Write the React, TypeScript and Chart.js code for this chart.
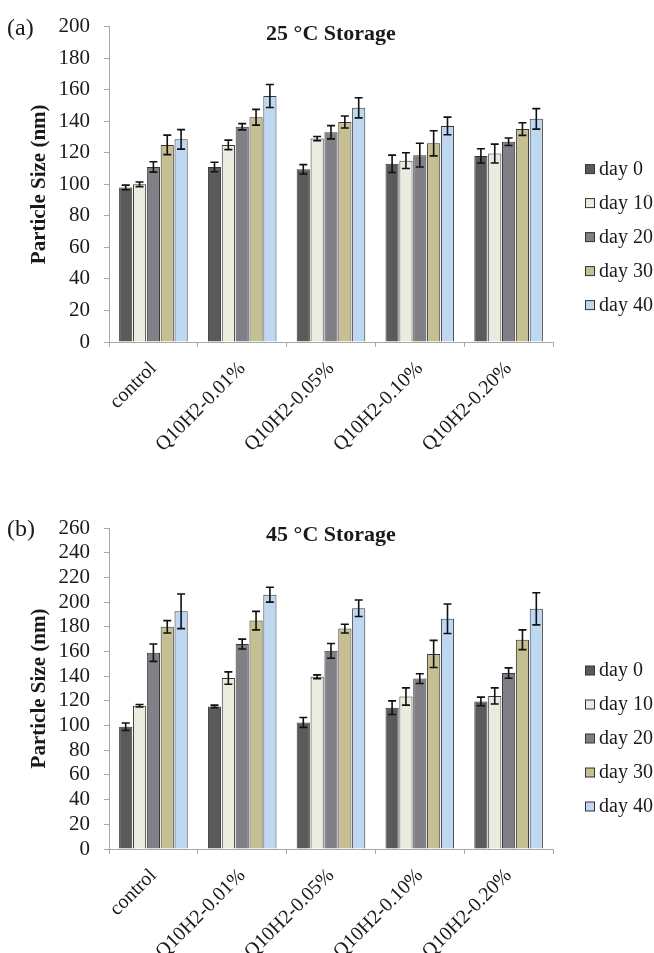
import React, { useEffect, useRef } from "react";
import { Chart, registerables } from "chart.js";

Chart.register(...registerables);

const categories = ["control", "Q10H2-0.01%", "Q10H2-0.05%", "Q10H2-0.10%", "Q10H2-0.20%"];
const seriesLabels = ["day 0", "day 10", "day 20", "day 30", "day 40"];
const seriesColors = ["#5a5a5a", "#ecebe0", "#807f85", "#c5bf92", "#bdd8f0"];

// 25 °C storage (nm), one array per storage day, values per category
const day0_25 = [98, 111, 109.5, 113, 118];
const day10_25 = [100, 125, 129, 115, 119.5];
const day20_25 = [111, 136.5, 133, 118.5, 127];
const day30_25 = [125, 142.5, 139.5, 126, 135];
const day40_25 = [128.5, 156, 148.5, 137, 141.5];
const err0_25 = [1.5, 3, 3, 5.5, 4.5];
const err10_25 = [1.5, 3, 1.3, 5, 6];
const err20_25 = [3.3, 2, 4.2, 7.5, 2.4];
const err30_25 = [6.2, 5, 3.8, 8, 4];
const err40_25 = [6.2, 7.3, 6.4, 5.6, 6.5];

// 45 °C storage (nm)
const day0_45 = [99, 115.5, 102.5, 114.5, 119.5];
const day10_45 = [116, 138.5, 139.5, 123.5, 124];
const day20_45 = [159, 166, 160.5, 138, 142.5];
const day30_45 = [180, 185, 178.5, 158, 169.5];
const day40_45 = [192.5, 206, 195, 186.5, 194.5];
const err0_45 = [3, 1, 4, 5.5, 3.5];
const err10_45 = [1, 5, 1.5, 7, 6.5];
const err20_45 = [7, 4, 6, 4, 4.2];
const err30_45 = [5, 7.5, 3.6, 11, 8];
const err40_45 = [14, 6, 6.7, 12, 13];

const yMax25 = 200;
const yMax45 = 260;
const yStep = 20;

const FONT = "'Liberation Serif', 'Times New Roman', serif";

const errorBarPlugin = {
  id: "errorBars",
  afterDatasetsDraw(chart: any) {
    const ctx = chart.ctx;
    const yScale = chart.scales.y;
    ctx.save();
    ctx.strokeStyle = "#111";
    ctx.lineWidth = 1.6;
    chart.data.datasets.forEach((ds: any, i: number) => {
      const meta = chart.getDatasetMeta(i);
      meta.data.forEach((bar: any, j: number) => {
        const v = ds.data[j];
        const e = ds.errors[j];
        const x = bar.x;
        const yT = yScale.getPixelForValue(v + e);
        const yB = yScale.getPixelForValue(v - e);
        const cap = 4;
        ctx.beginPath();
        ctx.moveTo(x, yT);
        ctx.lineTo(x, yB);
        ctx.moveTo(x - cap, yT);
        ctx.lineTo(x + cap, yT);
        ctx.moveTo(x - cap, yB);
        ctx.lineTo(x + cap, yB);
        ctx.stroke();
      });
    });
    ctx.restore();
  },
};

const sideLegendPlugin = {
  id: "sideLegend",
  afterDraw(chart: any) {
    const ctx = chart.ctx;
    const area = chart.chartArea;
    const panel = chart.options.plugins.sideLegend.panel;
    ctx.save();
    // panel label
    ctx.font = `24px ${FONT}`;
    ctx.fillStyle = "#1a1a1a";
    ctx.textAlign = "left";
    ctx.textBaseline = "middle";
    ctx.fillText(panel, 7, area.top + 2);
    // legend
    ctx.font = `20px ${FONT}`;
    chart.data.datasets.forEach((ds: any, i: number) => {
      const cy = area.top + 143 + i * 34;
      const bx = 585.5;
      ctx.fillStyle = ds.backgroundColor;
      ctx.fillRect(bx, cy - 5, 9, 9);
      ctx.strokeStyle = "#333";
      ctx.lineWidth = 1;
      ctx.strokeRect(bx, cy - 5, 9, 9);
      ctx.fillStyle = "#1a1a1a";
      ctx.fillText(ds.label, 599, cy);
    });
    ctx.restore();
  },
};

function makeConfig(
  title: string,
  panel: string,
  values: number[][],
  errors: number[][],
  yMax: number,
  titlePadTop: number,
  xHeight: number
) {
  return {
    type: "bar",
    data: {
      labels: categories,
      datasets: seriesLabels.map((label, i) => ({
        label,
        data: values[i],
        errors: errors[i],
        backgroundColor: seriesColors[i],
        borderColor: "#363636",
        borderWidth: 1,
        categoryPercentage: 0.78,
        barPercentage: 0.95,
      })),
    },
    options: {
      animation: false,
      responsive: false,
      maintainAspectRatio: false,
      layout: { padding: { left: 0, right: 127, top: 0, bottom: 0 } },
      plugins: {
        legend: { display: false },
        tooltip: { enabled: false },
        title: {
          display: true,
          text: title,
          fullSize: false,
          color: "#1a1a1a",
          font: { family: FONT, size: 22, weight: "bold" },
          padding: { top: titlePadTop, bottom: -20.7 },
        },
        sideLegend: { panel },
      },
      scales: {
        x: {
          afterFit: (scale: any) => {
            scale.height = xHeight;
          },
          border: { display: true, color: "#a8a8a8", width: 1 },
          grid: {
            display: true,
            offset: true,
            drawOnChartArea: false,
            drawTicks: true,
            tickLength: 5,
            color: "#a8a8a8",
          },
          ticks: {
            autoSkip: false,
            minRotation: 45,
            maxRotation: 45,
            padding: 10,
            color: "#1a1a1a",
            font: { family: FONT, size: 20 },
          },
        },
        y: {
          min: 0,
          max: yMax,
          afterFit: (scale: any) => {
            scale.width = 109;
          },
          border: { display: true, color: "#a8a8a8", width: 1 },
          grid: {
            display: true,
            drawOnChartArea: false,
            drawTicks: true,
            tickLength: 5,
            color: "#a8a8a8",
          },
          ticks: {
            stepSize: yStep,
            autoSkip: false,
            padding: 14,
            color: "#1a1a1a",
            font: { family: FONT, size: 21 },
          },
          title: {
            display: true,
            text: "Particle Size (nm)",
            color: "#1a1a1a",
            font: { family: FONT, size: 21, weight: "bold" },
            padding: { top: 27, bottom: 0 },
          },
        },
      },
    },
    plugins: [errorBarPlugin, sideLegendPlugin],
  } as any;
}

function BarPanel(props: {
  title: string;
  panel: string;
  values: number[][];
  errors: number[][];
  yMax: number;
  titlePadTop: number;
  width: number;
  height: number;
  xHeight: number;
}) {
  const ref = useRef<HTMLCanvasElement | null>(null);
  useEffect(() => {
    if (!ref.current) return;
    const chart = new Chart(
      ref.current,
      makeConfig(props.title, props.panel, props.values, props.errors, props.yMax, props.titlePadTop, props.xHeight)
    );
    return () => chart.destroy();
  }, []);
  return (
    <canvas
      ref={ref}
      width={props.width}
      height={props.height}
      style={{ display: "block", width: props.width, height: props.height }}
    />
  );
}

export default function App() {
  return (
    <div
      style={{
        position: "fixed",
        left: 0,
        top: 0,
        width: 654,
        height: 953,
        overflow: "hidden",
        background: "#ffffff",
      }}
    >
      <BarPanel
        title="25 °C Storage"
        panel="(a)"
        values={[day0_25, day10_25, day20_25, day30_25, day40_25]}
        errors={[err0_25, err10_25, err20_25, err30_25, err40_25]}
        yMax={yMax25}
        titlePadTop={15.3}
        width={680}
        height={470}
        xHeight={128}
      />
      <BarPanel
        title="45 °C Storage"
        panel="(b)"
        values={[day0_45, day10_45, day20_45, day30_45, day40_45]}
        errors={[err0_45, err10_45, err20_45, err30_45, err40_45]}
        yMax={yMax45}
        titlePadTop={52.3}
        width={680}
        height={483}
        xHeight={104}
      />
    </div>
  );
}
